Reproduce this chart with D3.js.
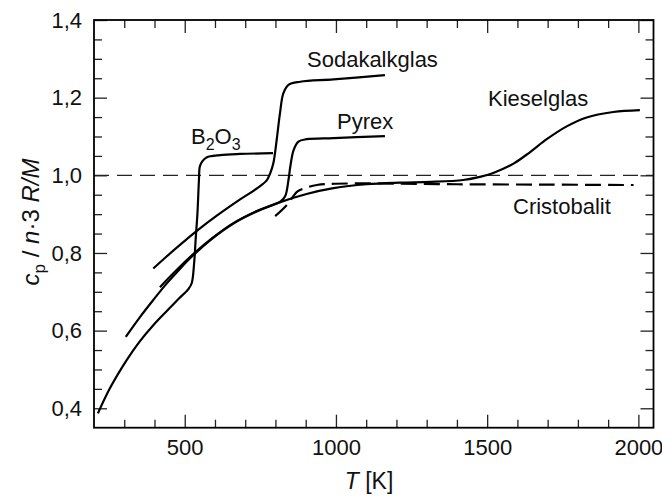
<!DOCTYPE html>
<html>
<head>
<meta charset="utf-8">
<script src="https://cdn.jsdelivr.net/npm/d3@7"></script>
<style>
  html, body { margin: 0; padding: 0; background: #fff; }
  svg { display: block; font-family: Arial, "Liberation Sans", Helvetica, sans-serif; }
</style>
</head>
<body>
<svg id="chart" width="662" height="499"></svg>
<script>
// Specific heat of glasses and cristobalite, normalised to the Dulong–Petit value
const kieselglasT  = [305, 352, 396, 440, 484, 528, 594, 661, 738, 816, 903, 992, 1102, 1212, 1313, 1421, 1476, 1520, 1587, 1642, 1697, 1763, 1829, 1917, 2005];
const kieselglasCp = [0.584, 0.635, 0.679, 0.721, 0.759, 0.794, 0.839, 0.876, 0.907, 0.931, 0.952, 0.967, 0.977, 0.981, 0.983, 0.988, 0.996, 1.006, 1.030, 1.060, 1.093, 1.126, 1.149, 1.163, 1.168];

const pyrexT  = [418, 473, 528, 594, 661, 738, 816, 832, 843, 849, 860, 876, 903, 992, 1162];
const pyrexCp = [0.712, 0.756, 0.797, 0.840, 0.877, 0.908, 0.932, 0.946, 0.988, 1.022, 1.065, 1.087, 1.093, 1.096, 1.101];

const b2o3T  = [213, 253, 308, 352, 396, 440, 480, 512, 523, 531, 536, 542, 547, 550, 558, 572, 617, 683, 792];
const b2o3Cp = [0.387, 0.452, 0.524, 0.573, 0.614, 0.650, 0.682, 0.707, 0.722, 0.773, 0.833, 0.902, 0.988, 1.023, 1.036, 1.046, 1.052, 1.055, 1.057];

const sodaT  = [396, 440, 495, 540, 606, 683, 740, 771, 782, 793, 804, 815, 826, 843, 882, 992, 1162];
const sodaCp = [0.760, 0.791, 0.828, 0.857, 0.896, 0.938, 0.967, 0.987, 1.004, 1.031, 1.091, 1.160, 1.211, 1.233, 1.241, 1.247, 1.258];

const cristobalitT  = [799, 837, 872, 893, 937, 981, 1136, 1400, 1700, 1984];
const cristobalitCp = [0.895, 0.923, 0.958, 0.966, 0.975, 0.978, 0.979, 0.977, 0.976, 0.975];

const xMajorTicks = [500, 1000, 1500, 2000];
const xMinorTicks = d3.range(300, 2001, 100);
const yMajorTicks = [0.4, 0.6, 0.8, 1.0, 1.2, 1.4];
const yMinorTicks = d3.range(0.4, 1.4001, 0.05).map(v => +v.toFixed(2));
const referenceLevel = 1.0;

const svg = d3.select("#chart");
const plot = { left: 94, top: 20, right: 653.5, bottom: 427.7 };

const x = d3.scaleLinear().domain([200, 2050]).range([plot.left, plot.right]);
const y = d3.scaleLinear().domain([0.35, 1.4]).range([plot.bottom, plot.top]);

const fmt = v => d3.format(".1f")(v).replace(".", ",");

// Clip the curves to the frame
svg.append("defs").append("clipPath").attr("id", "plotClip")
  .append("rect")
  .attr("x", plot.left).attr("y", plot.top)
  .attr("width", plot.right - plot.left).attr("height", plot.bottom - plot.top);

// Axes with inward ticks on all four sides
const minorLen = 8, majorLen = 13;
function addAxis(axisFn, scale, ticks, len, transform, labels) {
  const ax = axisFn(scale).tickValues(ticks).tickSize(-len).tickPadding(12)
    .tickFormat(labels ? fmt : "");
  const g = svg.append("g").attr("transform", transform).call(ax);
  g.select(".domain").remove();
  g.selectAll(".tick line").attr("stroke", "#222").attr("stroke-width", 1.3);
  g.selectAll(".tick text").attr("fill", "#111").style("font-size", "22px");
  return g;
}
const xMinorOnly = xMinorTicks.filter(t => !xMajorTicks.includes(t));
const yMinorOnly = yMinorTicks.filter(t => !yMajorTicks.some(m => Math.abs(m - t) < 1e-6));

addAxis(d3.axisBottom, x, xMinorOnly, minorLen, `translate(0,${plot.bottom})`, false);
const xb = addAxis(d3.axisBottom, x, xMajorTicks, majorLen, `translate(0,${plot.bottom})`, false);
xb.selectAll(".tick text").text(d => d).attr("y", 12).attr("dy", "0.71em");
addAxis(d3.axisTop, x, xMinorOnly, minorLen, `translate(0,${plot.top})`, false);
addAxis(d3.axisTop, x, xMajorTicks, majorLen, `translate(0,${plot.top})`, false);

addAxis(d3.axisLeft, y, yMinorOnly, minorLen, `translate(${plot.left},0)`, false);
const yl = addAxis(d3.axisLeft, y, yMajorTicks, majorLen, `translate(${plot.left},0)`, true);
yl.selectAll(".tick text").attr("x", -12);
addAxis(d3.axisRight, y, yMinorOnly, minorLen, `translate(${plot.right},0)`, false);
addAxis(d3.axisRight, y, yMajorTicks, majorLen, `translate(${plot.right},0)`, false);

// Dulong–Petit reference line
svg.append("line")
  .attr("x1", plot.left).attr("x2", plot.right)
  .attr("y1", y(referenceLevel)).attr("y2", y(referenceLevel))
  .attr("stroke", "#222").attr("stroke-width", 1.3)
  .attr("stroke-dasharray", "15,8");

// Curves
const line = d3.line().x(d => x(d[0])).y(d => y(d[1])).curve(d3.curveCatmullRom.alpha(0.5));
const series = [
  { T: kieselglasT, cp: kieselglasCp, dash: null },
  { T: pyrexT, cp: pyrexCp, dash: null },
  { T: b2o3T, cp: b2o3Cp, dash: null },
  { T: sodaT, cp: sodaCp, dash: null },
  { T: cristobalitT, cp: cristobalitCp, dash: "16,7" }
];
const curves = svg.append("g").attr("clip-path", "url(#plotClip)");
series.forEach(s => {
  curves.append("path")
    .datum(s.T.map((t, i) => [t, s.cp[i]]))
    .attr("d", line)
    .attr("fill", "none")
    .attr("stroke", "#000")
    .attr("stroke-width", 2.2)
    .attr("stroke-linecap", "butt")
    .attr("stroke-dasharray", s.dash);
});

// Frame
svg.append("rect")
  .attr("x", plot.left).attr("y", plot.top)
  .attr("width", plot.right - plot.left).attr("height", plot.bottom - plot.top)
  .attr("fill", "none").attr("stroke", "#000").attr("stroke-width", 1.8);

// Curve labels
const labelStyle = sel => sel.attr("fill", "#111").style("font-size", "22px");
svg.append("text").attr("x", 307).attr("y", 67).text("Sodakalkglas").call(labelStyle);
svg.append("text").attr("x", 337).attr("y", 129).text("Pyrex").call(labelStyle);
svg.append("text").attr("x", 488).attr("y", 106).text("Kieselglas").call(labelStyle);
svg.append("text").attr("x", 513).attr("y", 214).text("Cristobalit").call(labelStyle);
const b = svg.append("text").attr("x", 191).attr("y", 144).call(labelStyle);
b.append("tspan").text("B");
b.append("tspan").attr("dy", 6).style("font-size", "16px").text("2");
b.append("tspan").attr("dy", -6).text("O");
b.append("tspan").attr("dy", 6).style("font-size", "16px").text("3");

// Axis titles
const xt = svg.append("text").attr("x", 369).attr("y", 489)
  .attr("text-anchor", "middle").attr("fill", "#111").style("font-size", "23px");
xt.append("tspan").style("font-style", "italic").text("T");
xt.append("tspan").text(" [K]");

const yt = svg.append("text")
  .attr("transform", "translate(39,222) rotate(-90)")
  .attr("text-anchor", "middle").attr("fill", "#111").style("font-size", "24px");
yt.append("tspan").style("font-style", "italic").text("c");
yt.append("tspan").attr("dy", 6).style("font-size", "17px").text("p");
yt.append("tspan").attr("dy", -6).text(" / ");
yt.append("tspan").style("font-style", "italic").text("n");
yt.append("tspan").text("·3 ");
yt.append("tspan").style("font-style", "italic").text("R/M");
</script>
</body>
</html>
